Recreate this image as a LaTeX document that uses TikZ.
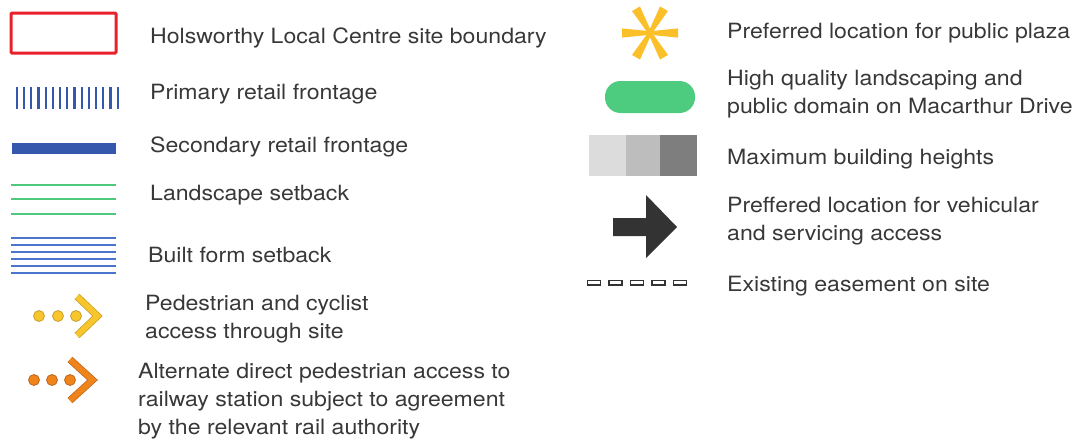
\documentclass[tikz,border=0pt]{standalone}
\usepackage{fontspec}
\setmainfont{TeX Gyre Heros}[FakeStretch=1.1]
\usetikzlibrary{calc}
\definecolor{bred}{HTML}{E8202A}
\definecolor{bblue}{HTML}{3557AC}
\definecolor{lblue}{HTML}{4B74CC}
\definecolor{lgreen}{HTML}{4CC97A}
\definecolor{pgreen}{HTML}{4DCB7E}
\definecolor{yel}{HTML}{F7C52C}
\definecolor{yeld}{HTML}{C9A02A}
\definecolor{ora}{HTML}{F0841A}
\definecolor{orad}{HTML}{B86A22}
\definecolor{astyel}{HTML}{FBBF2A}
\definecolor{txt}{HTML}{383838}
\definecolor{dark}{HTML}{333333}
\definecolor{grayA}{HTML}{DCDCDC}
\definecolor{grayB}{HTML}{BDBDBD}
\definecolor{grayC}{HTML}{7E7E7E}
\tikzset{
  lbl/.style={anchor=west, inner sep=0pt, align=left, text=txt,
    font=\fontsize{21}{28}\selectfont},
  dotc/.style={circle, minimum size=11pt, inner sep=0pt, line width=0.8pt},
  easebox/.style={draw=dark, fill=white, line width=1.2pt}
}
\begin{document}
\begin{tikzpicture}[x=1pt,y=-1pt]
\useasboundingbox (0,0) rectangle (1083,442);
% ---- left symbols
\draw[bred, line width=3pt, rounded corners=1pt] (11,13) rectangle (116,53);
\foreach \i in {0,...,14}
  \draw[bblue, line width=2.2pt] (16.8+7.2*\i,87) -- (16.8+7.2*\i,109);
\fill[bblue] (12,143) rectangle (116,154);
\foreach \yy in {185,199,214}
  \draw[lgreen, line width=2.8pt] (11,\yy) -- (116,\yy);
\foreach \yy in {238,245,252,259,266,273}
  \draw[lblue, line width=1.6pt] (11,\yy) -- (116,\yy);
% yellow access
\foreach \xx/\n in {39/a,58/b,76/c}
  \node[dotc, fill=yel, draw=yeld] (y\n) at (\xx,316) {};
\draw[yeld, line width=7.2pt, miter limit=10] (77,296.5) -- (97.5,316) -- (77,335.5);
\draw[yel, line width=5.6pt, miter limit=10] (77,296.5) -- (97.5,316) -- (77,335.5);
% orange access
\foreach \xx/\n in {34/a,52/b,70/c}
  \node[dotc, fill=ora, draw=orad] (o\n) at (\xx,380) {};
\draw[orad, line width=7.2pt, miter limit=10] (70,359.5) -- (92.5,380) -- (70,400.5);
\draw[ora, line width=5.6pt, miter limit=10] (70,359.5) -- (92.5,380) -- (70,400.5);
% ---- right symbols
\coordinate (ast) at (650,33);
\foreach \a in {0,60,120,180,240,300}
  \fill[astyel] ($(ast)+(\a+90:1.8)$) -- ($(ast)+(\a:28)+(\a+90:4.6)$) -- ($(ast)+(\a:28)+(\a-90:4.6)$) -- ($(ast)+(\a-90:1.8)$) -- cycle;
\fill[pgreen, rounded corners=15.5pt] (605,81) rectangle (695,113);
\fill[grayA] (589,135) rectangle (626,176);
\fill[grayB] (626,135) rectangle (660,176);
\fill[grayC] (660,135) rectangle (697,176);
\fill[dark] (613,218) -- (646,218) -- (646,195) -- (677,227) -- (646,258) -- (646,236) -- (613,236) -- cycle;
\foreach \i in {0,...,4}
  \draw[easebox] (587.5+21.5*\i,280.5) rectangle ++(13,4.5);
% ---- labels
\node[lbl] (t1) at (150,38) {Holsworthy Local Centre site boundary};
\node[lbl] (t2) at (150,94) {Primary retail frontage};
\node[lbl] (t3) at (150,147) {Secondary retail frontage};
\node[lbl] (t4) at (150,195) {Landscape setback};
\node[lbl] (t5) at (148,255) {Built form setback};
\node[lbl] (t6) at (145,319) {Pedestrian and cyclist\\access through site};
\node[lbl] (t7) at (138,401) {Alternate direct pedestrian access to\\railway station subject to agreement\\by the relevant rail authority};
\node[lbl] (t8) at (727,33) {Preferred location for public plaza};
\node[lbl] (t9) at (727,94) {High quality landscaping and\\public domain on Macarthur Drive};
\node[lbl] (t10) at (727,159) {Maximum building heights};
\node[lbl] (t11) at (727,221) {Preffered location for vehicular\\and servicing access};
\node[lbl] (t12) at (727,286) {Existing easement on site};
\end{tikzpicture}
\end{document}
